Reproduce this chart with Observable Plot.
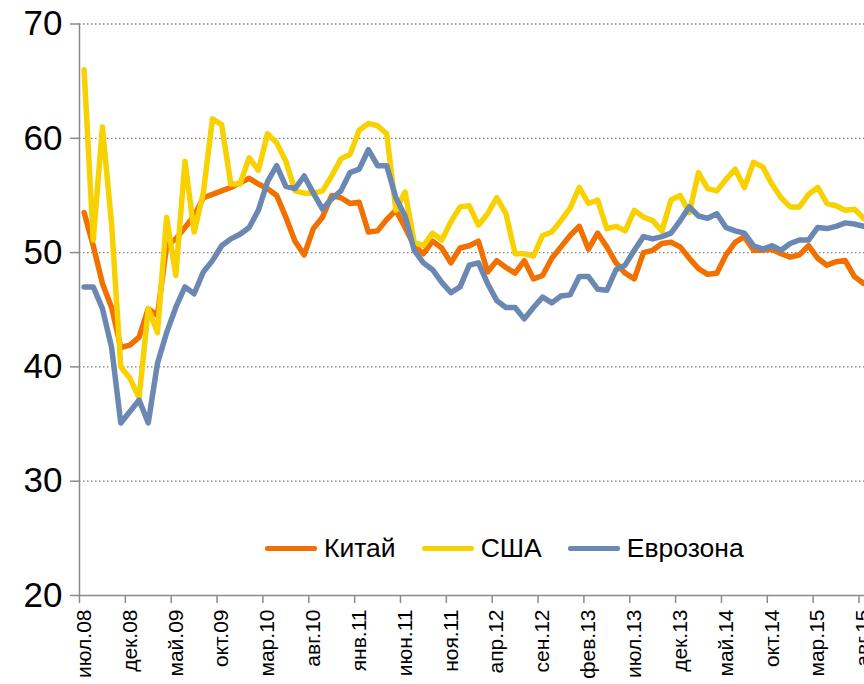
<!DOCTYPE html>
<html><head><meta charset="utf-8">
<script src="https://cdn.jsdelivr.net/npm/d3@7"></script>
<script src="https://cdn.jsdelivr.net/npm/@observablehq/plot@0.6"></script>
<style>
body{margin:0;background:#fff;font-family:"Liberation Sans",Arial,sans-serif;}
#wrap{position:relative;width:864px;height:684px;overflow:hidden;background:#fff;}
#legend{position:absolute;left:265px;top:532px;display:flex;align-items:center;font-size:26.5px;color:#000;line-height:32px;}
.item{display:flex;align-items:center;margin-right:26px;}
.sw{width:52px;height:5px;border-radius:2px;margin-right:7px;}
</style></head>
<body><div id="wrap"><div id="legend"></div></div>
<script>
const seriesNames = ["Китай", "США", "Еврозона"];
const seriesColors = ["#F27000", "#F8D200", "#6B88B3"];
const tickLabels = ["июл.08","дек.08","май.09","окт.09","мар.10","авг.10","янв.11","июн.11","ноя.11","апр.12","сен.12","фев.13","июл.13","дек.13","май.14","окт.14","мар.15","авг.15"];
const china = [53.5,50.6,47.3,45.2,41.7,41.9,42.6,45.1,44.5,50.6,51.2,52.2,53.2,54.8,55.1,55.4,55.7,56.1,56.5,56.0,55.6,55.0,53.1,51.0,49.8,52.1,53.1,55.0,54.8,54.3,54.4,51.8,51.9,52.9,53.7,52.2,50.6,49.9,51.0,50.4,49.1,50.4,50.6,51.0,48.3,49.3,48.7,48.2,49.3,47.7,48.0,49.5,50.5,51.5,52.3,50.3,51.7,50.5,49.1,48.2,47.7,50.0,50.2,50.8,50.9,50.5,49.5,48.6,48.1,48.2,49.8,50.9,51.4,50.2,50.2,50.3,49.9,49.6,49.8,50.6,49.5,48.9,49.2,49.3,47.9,47.3];
const usa = [66.0,51.1,61.0,52.5,40.0,39.0,37.3,45.1,43.0,53.1,48.0,58.0,51.8,55.2,61.7,61.2,56.0,56.0,58.3,57.2,60.4,59.6,58.0,55.4,55.2,55.2,55.4,56.7,58.2,58.6,60.7,61.3,61.1,60.4,53.7,55.3,50.9,50.6,51.7,51.1,52.7,54.0,54.1,52.4,53.4,54.8,53.4,49.9,49.9,49.7,51.5,51.8,52.8,53.9,55.7,54.3,54.6,52.1,52.3,51.9,53.7,53.1,52.8,51.9,54.6,55.0,53.5,57.0,55.6,55.4,56.4,57.3,55.7,57.9,57.5,56.0,54.8,54.0,54.0,55.1,55.7,54.3,54.1,53.7,53.8,53.0];
const euro = [47.0,47.0,45.1,41.7,35.1,36.1,37.1,35.1,40.3,43.0,45.2,47.0,46.4,48.3,49.3,50.6,51.2,51.6,52.2,53.7,56.2,57.6,55.8,55.6,56.7,55.2,53.8,54.7,55.4,57.0,57.3,59.0,57.6,57.6,54.8,53.2,50.2,49.1,48.5,47.4,46.5,47.0,48.9,49.1,47.3,45.8,45.2,45.2,44.2,45.2,46.1,45.6,46.2,46.3,47.9,47.9,46.8,46.7,48.5,48.9,50.2,51.4,51.2,51.4,51.7,52.8,54.0,53.2,53.0,53.4,52.2,51.9,51.7,50.6,50.3,50.6,50.2,50.8,51.1,51.1,52.2,52.1,52.3,52.6,52.5,52.3];
const yTicks = [20,30,40,50,60,70];
const gridTicks = [30,40,50,60,70];

const values = [china, usa, euro];
const data = [];
values.forEach((arr, s) => arr.forEach((v, i) => data.push({i, v, series: seriesNames[s]})));
const labelIdx = tickLabels.map((_, k) => k * 5);
const boundaries = tickLabels.map((_, k) => k * 5 - 0.5);

const chart = Plot.plot({
  width: 864, height: 684,
  marginLeft: 79, marginRight: 0, marginTop: 23.5, marginBottom: 89,
  x: {domain: [-0.5, 85.1], label: null},
  y: {domain: [20, 70], label: null},
  color: {domain: seriesNames, range: seriesColors},
  style: {fontFamily: "'Liberation Sans', Arial, sans-serif", background: "white", color: "black"},
  marks: [
    Plot.gridY(gridTicks, {stroke: "#7f7f7f", strokeOpacity: 1, strokeWidth: 1.3, strokeDasharray: "1.5,2.5"}),
    Plot.lineY(data, {x: "i", y: "v", z: "series", stroke: "series", strokeWidth: 5.5, strokeLinejoin: "round", strokeLinecap: "round"}),
    Plot.ruleX([-0.5], {stroke: "#8a8a8a", strokeWidth: 1.5}),
    Plot.ruleY([20], {stroke: "#8a8a8a", strokeWidth: 1.5}),
    Plot.axisY({ticks: yTicks, label: null, tickSize: 9, tickPadding: 8, fontSize: 35, stroke: "#8a8a8a", strokeWidth: 1.5, tickFormat: d => String(d)}),
    Plot.axisX({ticks: boundaries, label: null, tickSize: 8, stroke: "#8a8a8a", strokeWidth: 1.5, tickFormat: () => ""}),
    Plot.axisX({ticks: labelIdx, label: null, tickSize: 0, tickPadding: 14, tickRotate: -90, fontSize: 21, tickFormat: d => tickLabels[Math.round(d / 5)]})
  ]
});
const wrap = document.getElementById("wrap");
wrap.insertBefore(chart, wrap.firstChild);

const legend = document.getElementById("legend");
seriesNames.forEach((n, s) => {
  const it = document.createElement("div");
  it.className = "item";
  const sw = document.createElement("div");
  sw.className = "sw";
  sw.style.background = seriesColors[s];
  const t = document.createElement("span");
  t.textContent = n;
  it.appendChild(sw); it.appendChild(t);
  legend.appendChild(it);
});
</script></body></html>
